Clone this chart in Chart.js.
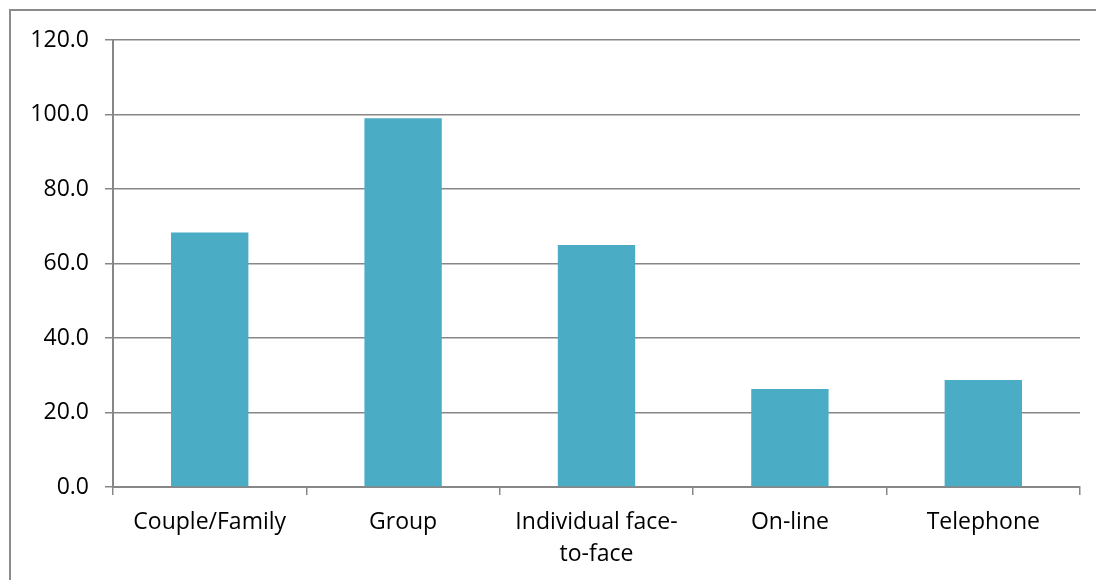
<!DOCTYPE html>
<html>
<head>
<meta charset="utf-8">
<script src="https://cdn.jsdelivr.net/npm/chart.js@4"></script>
<style>
  html, body { margin: 0; padding: 0; background: #fff; }
  .frame {
    position: absolute;
    left: 9px;
    top: 9px;
    width: 1200px;
    height: 700px;
    border-top: 2px solid #8c8c8c;
    border-left: 2px solid #8c8c8c;
  }
  #chart { position: absolute; left: 0; top: 0; }
</style>
</head>
<body>
<div class="frame"></div>
<canvas id="chart" width="1096" height="580"></canvas>
<script>
const categories = [
  "Couple/Family",
  "Group",
  ["Individual face-", "to-face"],
  "On-line",
  "Telephone",
];
const counsellingValues = [68.3, 99.0, 65.0, 26.3, 28.7];
const yMin = 0;
const yMax = 120;
const yStep = 20;

const gridColor = "#878787";
const barColor = "#4bacc6";
const labelFont = { family: "Open Sans", size: 23, lineHeight: 1.37 };

const ctx = document.getElementById("chart");

new Chart(ctx, {
  type: "bar",
  data: {
    labels: categories,
    datasets: [
      {
        data: counsellingValues,
        backgroundColor: barColor,
        borderWidth: 0,
        categoryPercentage: 1,
        barPercentage: 0.4,
      },
    ],
  },
  options: {
    responsive: false,
    animation: false,
    layout: {
      padding: { top: 40, right: 16, left: 0, bottom: 0 },
    },
    plugins: {
      legend: { display: false },
      tooltip: { enabled: false },
    },
    scales: {
      x: {
        grid: {
          offset: true,
          drawOnChartArea: false,
          drawTicks: true,
          tickLength: 8,
          color: gridColor,
          lineWidth: 1.5,
        },
        border: { color: gridColor, width: 2 },
        ticks: {
          color: "#000",
          padding: 12,
          maxRotation: 0,
          font: labelFont,
        },
        afterFit: (axis) => {
          axis.height = 93;
        },
      },
      y: {
        min: yMin,
        max: yMax,
        grid: {
          color: gridColor,
          lineWidth: 1.5,
          tickLength: 8,
        },
        border: { color: gridColor, width: 2 },
        ticks: {
          stepSize: yStep,
          color: "#000",
          padding: 16,
          font: labelFont,
          callback: (value) => value.toFixed(1),
        },
        afterFit: (axis) => {
          axis.width = 113;
        },
      },
    },
  },
});
</script>
</body>
</html>
